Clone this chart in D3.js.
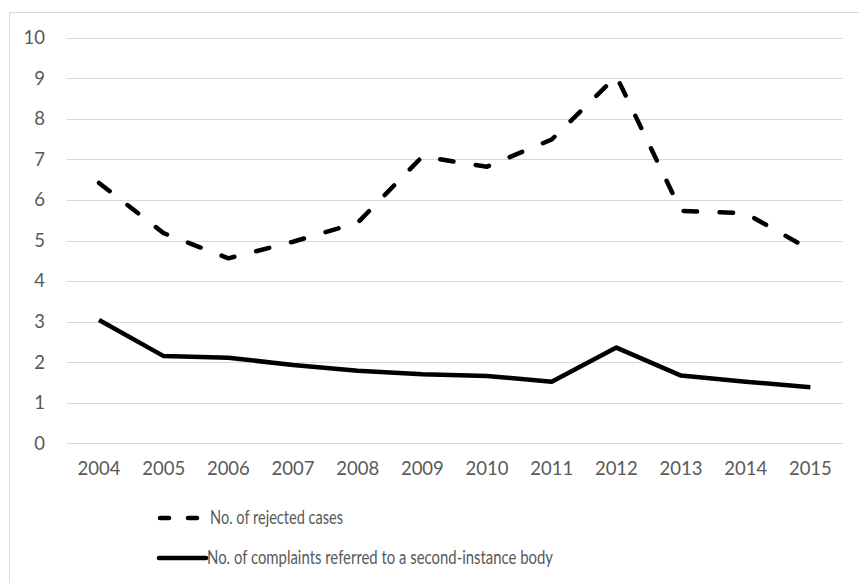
<!DOCTYPE html>
<html>
<head>
<meta charset="utf-8">
<script src="https://cdn.jsdelivr.net/npm/d3@7"></script>
<style>
  html, body { margin: 0; padding: 0; background: #fff; }
  svg { display: block; }
  text { font-family: Lato, "Open Sans", sans-serif; fill: #595959; }
</style>
</head>
<body>
<svg id="chart" width="859" height="583"></svg>
<script>
const years = ["2004","2005","2006","2007","2008","2009","2010","2011","2012","2013","2014","2015"];
const rejectedCases = [6.42, 5.18, 4.56, 4.97, 5.44, 7.07, 6.82, 7.49, 9.05, 5.73, 5.67, 4.77];
const complaintsReferred = [3.04, 2.15, 2.11, 1.93, 1.79, 1.70, 1.66, 1.52, 2.36, 1.67, 1.52, 1.38];
const yTicks = [0,1,2,3,4,5,6,7,8,9,10];
const seriesNames = ["No. of rejected cases", "No. of complaints referred to a second-instance body"];

const svg = d3.select("#chart");
const W = 859, H = 583;

// outer chart border
svg.append("rect")
  .attr("x", 9.5).attr("y", 12.5)
  .attr("width", W).attr("height", H)
  .attr("fill", "none").attr("stroke", "#d9d9d9").attr("stroke-width", 1);

const x = d3.scaleBand().domain(years).range([66.7, 842.7]);
const y = d3.scaleLinear().domain([0, 10]).range([443.3, 37.7]);

// gridlines
svg.append("g").selectAll("line").data(yTicks).join("line")
  .attr("x1", 66.7).attr("x2", 842.7)
  .attr("y1", d => Math.round(y(d)) + 0.5).attr("y2", d => Math.round(y(d)) + 0.5)
  .attr("stroke", "#d9d9d9").attr("stroke-width", 1.2);

// y axis labels
const yAxis = d3.axisLeft(y).tickValues(yTicks).tickSize(0).tickPadding(0).tickFormat(d3.format("d"));
const gy = svg.append("g").attr("transform", "translate(45,0)").call(yAxis);
gy.select(".domain").remove();
gy.selectAll("text").style("font-family", "Lato, sans-serif").style("font-size", "18.5px").attr("fill", "#595959");

// x axis labels
const xAxis = d3.axisBottom(x).tickSize(0).tickPadding(0);
const gx = svg.append("g").attr("transform", "translate(0,462)").call(xAxis);
gx.select(".domain").remove();
gx.selectAll("text").style("font-family", "Lato, sans-serif").style("font-size", "18.5px").attr("fill", "#595959");

const line = d3.line()
  .x((d, i) => x(years[i]) + x.bandwidth() / 2)
  .y(d => y(d));

svg.append("path").datum(rejectedCases)
  .attr("d", line)
  .attr("fill", "none").attr("stroke", "#000").attr("stroke-width", 4.5)
  .attr("stroke-linecap", "round").attr("stroke-linejoin", "round")
  .attr("stroke-dasharray", "13.5,22.5");

svg.append("path").datum(complaintsReferred)
  .attr("d", line)
  .attr("fill", "none").attr("stroke", "#000").attr("stroke-width", 4.5)
  .attr("stroke-linejoin", "round");

// legend
const lg = svg.append("g");
lg.append("line").attr("x1", 160).attr("x2", 200).attr("y1", 518).attr("y2", 518)
  .attr("stroke", "#000").attr("stroke-width", 4.5).attr("stroke-linecap", "round")
  .attr("stroke-dasharray", "9,19");
lg.append("text").attr("x", 210).attr("y", 518).attr("dy", "0.35em")
  .style("font-size", "18.5px")
  .attr("textLength", 133).attr("lengthAdjust", "spacingAndGlyphs")
  .text(seriesNames[0]);
lg.append("line").attr("x1", 159).attr("x2", 206).attr("y1", 558).attr("y2", 558)
  .attr("stroke", "#000").attr("stroke-width", 4.5).attr("stroke-linecap", "round");
lg.append("text").attr("x", 207).attr("y", 558).attr("dy", "0.35em")
  .style("font-size", "18.5px")
  .attr("textLength", 346).attr("lengthAdjust", "spacingAndGlyphs")
  .text(seriesNames[1]);
</script>
</body>
</html>
